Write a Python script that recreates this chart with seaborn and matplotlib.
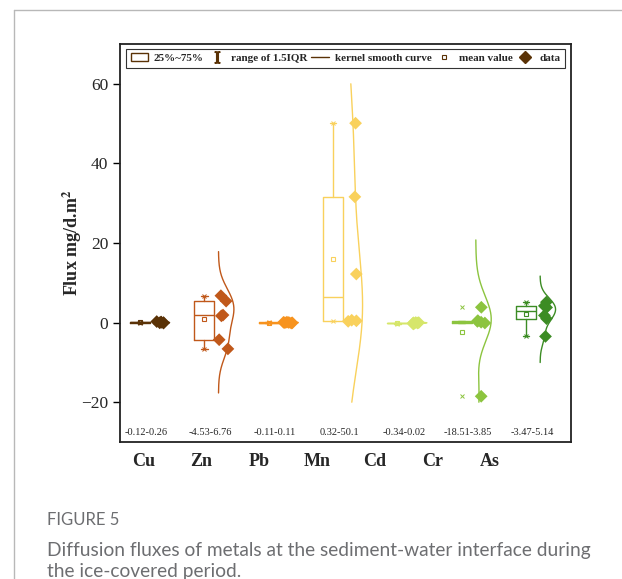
import numpy as np
import pandas as pd
import seaborn as sns
import matplotlib.pyplot as plt
from matplotlib.lines import Line2D
from matplotlib.patches import Patch

# metals, fluxes (mg/d.m2)
metals = ["Cu", "Zn", "Pb", "Mn", "Cd", "Cr", "As"]
cu = [-0.12, -0.05, 0.0, 0.08, 0.15, 0.26]
zn = [-6.6, -4.3, 1.7, 1.9, 5.4, 6.76]
pb = [-0.11, -0.06, -0.02, 0.03, 0.07, 0.11]
mn = [0.32, 0.45, 0.6, 12.2, 31.6, 50.1]
cd = [-0.34, -0.2, -0.1, -0.05, 0.0, 0.02]
cr = [-18.51, -0.1, 0.1, 0.3, 0.5, 3.85]
as_ = [-3.47, 1.0, 1.8, 3.8, 4.2, 5.14]
ranges = ["-0.12-0.26", "-4.53-6.76", "-0.11-0.11", "0.32-50.1",
          "-0.34-0.02", "-18.51-3.85", "-3.47-5.14"]
colors = ["#5a3206", "#c0581a", "#f7931e", "#f9d15c", "#d6e66a", "#8cc43f", "#3c8c24"]
brown = "#5a3206"

values = [cu, zn, pb, mn, cd, cr, as_]
df = pd.DataFrame({
    "metal": np.repeat(metals, [len(v) for v in values]),
    "value": np.concatenate(values),
})
df["pos"] = df["metal"].map({m: i for i, m in enumerate(metals)}) + 0.30

sns.set_theme(style="ticks")
plt.rcParams["font.family"] = ["Liberation Serif", "DejaVu Serif"]
plt.rcParams["mathtext.fontset"] = "stix"

fig = plt.figure(figsize=(6.22, 5.79), dpi=100)
ax = fig.add_axes([0.193, 0.2366, 0.725, 0.6874])


def hinges(v):
    s = np.sort(v)
    n = len(s)
    half = (n + 1) // 2
    return np.median(s[:half]), np.median(s), np.median(s[n - half:])


for i, (v, c) in enumerate(zip(values, colors)):
    v = np.asarray(v)
    q1, med, q3 = hinges(v)
    iqr = q3 - q1
    lo = v[v >= q1 - 1.5 * iqr].min()
    hi = v[v <= q3 + 1.5 * iqr].max()
    st = dict(med=med, q1=q1, q3=q3, whislo=lo, whishi=hi, mean=v.mean(), fliers=[])
    lp = dict(color=c, lw=1)
    ax.bxp([st], positions=[i], widths=0.31, showmeans=True, showfliers=False,
           manage_ticks=False, capwidths=0.1,
           boxprops=lp, whiskerprops=lp, capprops=lp, medianprops=lp,
           meanprops=dict(marker="s", mfc="none", mec=c, ms=3.5, mew=0.8))
    ax.plot([i, i], [v.min(), v.max()], ls="none", marker="x", ms=3.5, mew=0.7, color=c)

    # kernel smooth curve (half violin on the right)
    bw = v.std(ddof=1) * len(v) ** (-1 / 5)
    yy = np.linspace(max(v.min() - 3 * bw, -20), min(v.max() + 3 * bw, 60), 300)
    dens = np.exp(-0.5 * ((yy[:, None] - v[None, :]) / bw) ** 2).sum(axis=1)
    ax.plot(i + 0.22 + 0.24 * dens / dens.max(), yy, color=c, lw=1)

    ax.text(i + 0.1, -27.5, ranges[i], ha="center", va="center", fontsize=7.5)

np.random.seed(4)
sns.stripplot(data=df, x="pos", y="value", hue="metal", hue_order=metals,
              palette=colors, native_scale=True, orient="x", jitter=0.07,
              marker="D", size=6.5, linewidth=0, legend=False, ax=ax, zorder=3)

ax.set_xlim(-0.31, 6.70)
ax.set_ylim(-30, 70)
ax.set_yticks([-20, 0, 20, 40, 60])
ax.set_xticks(0.06 + 0.897 * np.arange(len(metals)))
ax.set_xticklabels(metals, fontsize=13, fontweight="bold")
ax.tick_params(axis="x", length=0, pad=8)
ax.tick_params(axis="y", labelsize=12.5, length=5, width=1, direction="out", color="black")
ax.set_xlabel("")
ax.set_ylabel(r"Flux mg/d.m$^\mathbf{2}$", fontsize=13, fontweight="bold", labelpad=-2)
for sp in ax.spines.values():
    sp.set_visible(True)
    sp.set_color("#222222")
    sp.set_linewidth(1.3)

handles = [
    Patch(facecolor="white", edgecolor=brown, lw=1),
    Line2D([], [], ls="none", marker=r"$\mathrm{I}$", color=brown, ms=8),
    Line2D([], [], color=brown, lw=1),
    Line2D([], [], ls="none", marker="s", mfc="none", mec=brown, ms=3.5, mew=0.8),
    Line2D([], [], ls="none", marker="D", color=brown, ms=6),
]
labels = ["25%~75%", "range of 1.5IQR", "kernel smooth curve", "mean value", "data"]
leg = ax.legend(handles, labels, ncol=5, loc="upper center", bbox_to_anchor=(0.5, 0.993),
                frameon=True, fancybox=False, edgecolor="#333333", framealpha=1,
                prop=dict(weight="bold", size=8), handlelength=1.6, handletextpad=0.5,
                columnspacing=0.35, borderpad=0.4, borderaxespad=0.2)
leg.get_frame().set_linewidth(0.8)

# page frame and caption
fig.add_artist(Line2D([0.0225, 1], [0.983, 0.983], color="#b8b8b8", lw=1))
fig.add_artist(Line2D([0.0225, 0.0225], [0, 0.983], color="#b8b8b8", lw=1))
fig.text(47 / 622, 1 - 520 / 579, "FIGURE 5", color="#6d6e71", fontsize=12,
         family="Lato", va="center")
fig.text(47 / 622, 1 - 561 / 579,
         "Diffusion fluxes of metals at the sediment-water interface during\nthe ice-covered period.",
         color="#6d6e71", fontsize=13.8, family="Lato", va="center", linespacing=1.3)

fig.savefig("out.png", dpi=100)
